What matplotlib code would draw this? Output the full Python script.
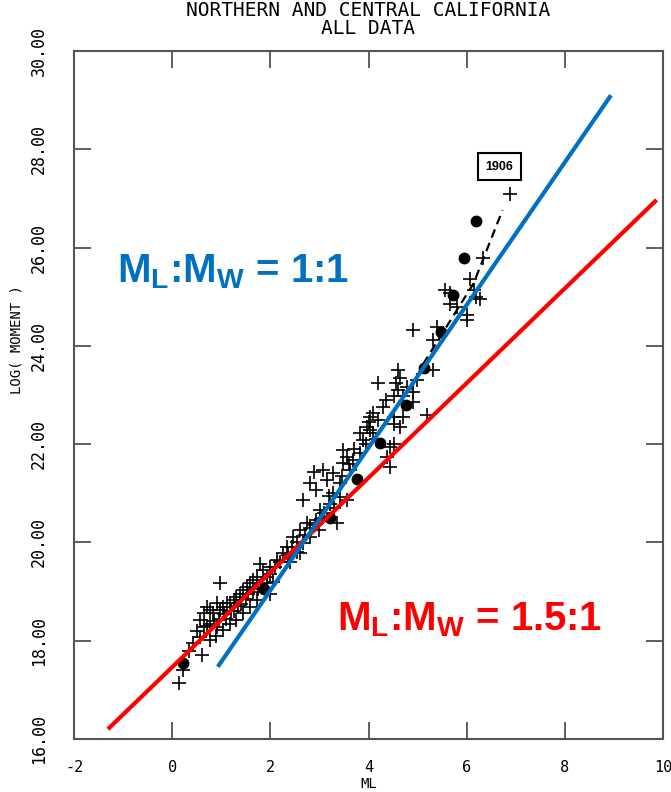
import matplotlib
matplotlib.use("Agg")
import matplotlib.pyplot as plt
import numpy as np

plt.rcParams['mathtext.fontset'] = 'custom'
plt.rcParams['mathtext.rm'] = 'Liberation Sans:bold'
plt.rcParams['mathtext.bf'] = 'Liberation Sans:bold'
plt.rcParams['mathtext.it'] = 'Liberation Sans:bold'

# ---- data ----
cross_ml = [5.66, 5.80, 6.00, 6.20, 4.91, 5.32, 4.61, 4.64, 4.20, 4.61, 4.78, 4.91, 5.32, 4.91, 4.71,
            4.51, 4.30, 4.10, 4.51, 4.71, 4.64, 5.19, 4.51, 3.96, 3.83, 4.10, 3.89, 4.44, 4.37, 4.44,
            3.49, 3.56, 3.49, 3.69, 3.83, 3.62, 2.88, 3.08, 3.28, 3.15, 3.42, 2.81, 2.94, 2.67, 3.28,
            3.42, 3.56, 3.22, 3.01, 2.94, 3.35, 2.74, 2.60, 2.47, 2.67, 2.81, 2.60, 2.33, 2.26, 2.13,
            1.99, 1.79, 1.86, 1.72, 1.93, 1.65, 1.59, 1.52, 1.45, 1.38, 1.31, 1.25, 1.18, 1.11, 1.04,
            0.97, 0.91, 0.84, 0.77, 0.70, 0.64, 0.57, 0.64, 0.77, 0.91, 1.04, 1.18, 1.31, 1.45, 1.59,
            1.72, 0.97, 1.99, 1.93, 0.43, 0.57, 0.60, 0.77, 0.13, 0.23,
            6.88, 6.34, 6.07, 5.56, 6.27, 5.66, 6.14, 6.00, 4.98, 4.57, 4.03, 4.03, 4.51, 5.39,
            1.05, 1.20, 1.35, 1.50, 1.65, 1.80, 2.00, 2.10, 2.20, 2.35, 2.45, 2.55, 2.70, 2.80,
            2.90, 3.05, 3.10, 3.20, 3.30, 1.10, 1.25, 0.85, 0.95, 1.40, 1.55, 1.75, 2.05, 2.40,
            2.55, 3.00, 3.45, 3.60, 3.70, 3.95, 4.00, 4.20, 4.35, 4.15, 0.50, 0.70, 0.35, 0.90]
cross_logm = [25.07, 24.80, 24.63, 25.00, 24.32, 24.12, 23.51, 23.34, 23.24, 23.10, 23.17, 23.07, 23.51, 22.86, 22.97,
              22.97, 22.76, 22.63, 22.56, 22.56, 22.35, 22.59, 22.42, 22.35, 22.22, 22.22, 22.08, 21.95, 21.74, 21.54,
              21.88, 21.74, 21.61, 21.68, 21.81, 21.47, 21.44, 21.47, 21.41, 21.27, 21.20, 21.20, 21.07, 20.86, 21.00,
              20.93, 20.86, 20.79, 20.66, 20.46, 20.39, 20.39, 20.25, 20.12, 19.98, 20.12, 19.78, 19.91, 19.78, 19.64,
              19.51, 19.57, 19.44, 19.30, 19.30, 19.23, 19.17, 19.10, 19.03, 18.96, 18.89, 18.83, 18.76, 18.76, 18.69,
              18.62, 18.76, 18.56, 18.62, 18.69, 18.56, 18.42, 18.28, 18.35, 18.28, 18.22, 18.35, 18.42, 18.56, 18.69,
              18.83, 19.17, 18.96, 19.17, 17.95, 18.08, 17.71, 18.01, 17.13, 17.40,
              27.10, 25.78, 25.37, 25.14, 24.95, 24.86, 25.14, 24.52, 23.30, 23.24, 22.56, 22.29, 22.01, 24.38,
              18.55, 18.60, 18.70, 18.85, 19.00, 19.15, 19.35, 19.50, 19.60, 19.75, 19.90, 20.00, 20.15, 20.30,
              20.35, 20.50, 20.60, 20.95, 20.70, 18.45, 18.60, 18.40, 18.45, 18.75, 18.95, 19.05, 19.20, 19.60,
              19.80, 20.25, 21.35, 21.60, 21.90, 22.00, 22.45, 22.50, 22.90, 22.10, 18.20, 18.30, 17.80, 18.10]

dot_ml = [0.23, 1.87, 3.22, 3.76, 4.23, 4.77, 5.14, 5.48, 5.73, 5.95, 6.18]
dot_logm = [17.54, 19.06, 20.50, 21.30, 22.02, 22.79, 23.54, 24.29, 25.04, 25.79, 26.55]

dash_ml = [4.85, 5.12, 6.14, 6.73]
dash_logm = [23.10, 23.64, 25.27, 26.76]

blue_ml = [0.93, 8.94]
blue_logm = [17.47, 29.10]
red_ml = [-1.31, 9.87]
red_logm = [16.20, 26.97]

xticks = [-2, 0, 2, 4, 6, 8, 10]
yticks = [16, 18, 20, 22, 24, 26, 28, 30]
ytick_labels = ['16.00', '18.00', '20.00', '22.00', '24.00', '26.00', '28.00', '30.00']

label_1906 = '1906'
label_1906_pos = (6.67, 27.64)

# ---- figure ----
fig = plt.figure(figsize=(6.71, 7.92), dpi=100)
ax = fig.add_axes([74/671, 1 - 739/792, 589/671, 688/792])
mono = 'DejaVu Sans Mono'

ax.plot(cross_ml, cross_logm, linestyle='none', marker='+', markersize=10,
        markeredgewidth=1.2, color='black', zorder=3)
ax.plot(dot_ml, dot_logm, linestyle='none', marker='o', markersize=7.5,
        color='black', zorder=4)
ax.plot(dash_ml, dash_logm, linestyle=(0, (4, 2.5)), color='black', lw=1.6, zorder=4)
ax.plot(red_ml, red_logm, color='#FF0000', lw=3, solid_capstyle='butt', zorder=5)
ax.plot(blue_ml, blue_logm, color='#0070C0', lw=3, solid_capstyle='butt', zorder=6)

ax.text(label_1906_pos[0], label_1906_pos[1], label_1906, ha='center', va='center',
        fontsize=9, fontweight='bold', family='Liberation Sans',
        bbox=dict(boxstyle='square,pad=0.6', fc='white', ec='black', lw=1.5), zorder=7)

ax.set_xlim(-2, 10)
ax.set_ylim(16, 30)
ax.set_xticks(xticks)
ax.set_xticklabels([str(v) for v in xticks], family=mono, fontsize=11)
ax.set_yticks(yticks)
ax.set_yticklabels(ytick_labels, family=mono, fontsize=12, rotation=90, va='center')
ax.tick_params(direction='in', length=12, width=1.2, color='#444444',
               top=True, right=True)
ax.tick_params(axis='x', pad=15)
ax.tick_params(axis='y', pad=19)
for s in ax.spines.values():
    s.set_color('#555555')
    s.set_linewidth(1.5)

ax.set_xlabel('ML', family=mono, fontsize=10)
ax.xaxis.set_label_coords(0.5, -0.066)
ax.xaxis.label.set_va('center')
ax.set_ylabel('LOG( MOMENT )', family=mono, fontsize=10)
ax.yaxis.set_label_coords(-0.085, 0.58)

fig.text(368/671, 1 - 10/792, 'NORTHERN AND CENTRAL CALIFORNIA', family=mono,
         fontsize=14, ha='center', va='center')
fig.text(368/671, 1 - 29/792, 'ALL DATA', family=mono, fontsize=14, ha='center', va='center')

ax.text(0.073, 0.664, r'$\mathrm{M_L}$:$\mathrm{M_W}$ = 1:1', transform=ax.transAxes,
        color='#0070C0', fontsize=29, fontweight='bold', family='Liberation Sans',
        ha='left', va='baseline')
ax.text(0.447, 0.158, r'$\mathrm{M_L}$:$\mathrm{M_W}$ = 1.5:1', transform=ax.transAxes,
        color='#FF0000', fontsize=29, fontweight='bold', family='Liberation Sans',
        ha='left', va='baseline')

fig.savefig('out.png', dpi=100)
